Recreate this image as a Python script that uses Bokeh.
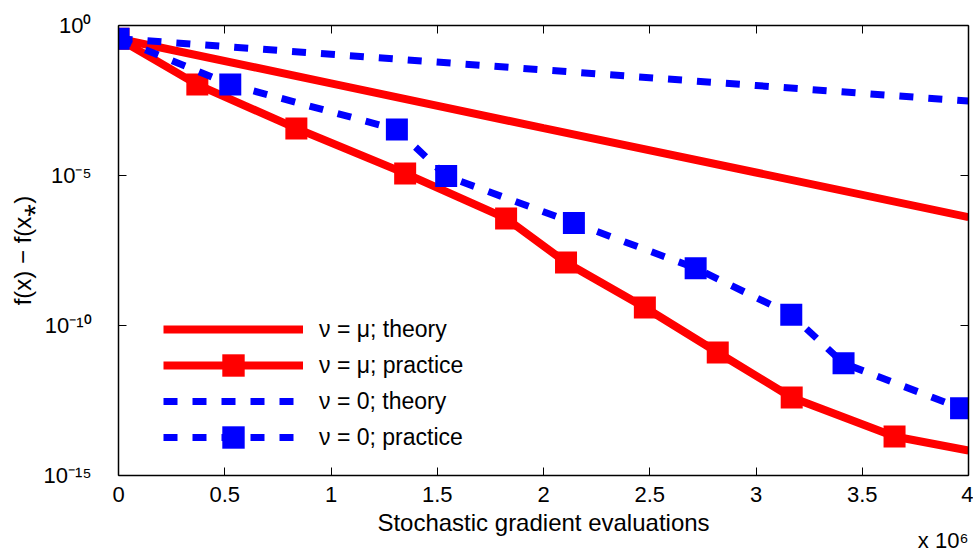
import numpy as np
from bokeh.plotting import figure
from bokeh.models import (FixedTicker, LinearAxis, LogAxis, CustomJSTickFormatter,
                          Title, Legend, LegendItem)
from bokeh.embed import file_html
from bokeh.resources import INLINE

# ---------------- data (x in units of 10^6, y given as log10 values) ----------------
x_label = "Stochastic gradient evaluations"
y_label = "f(x) \u2212 f(x\u204e)"
x_scale_note = "x 10\u2076"

xtick_values = [0, 0.5, 1, 1.5, 2, 2.5, 3, 3.5, 4]
xtick_labels = ["0", "0.5", "1", "1.5", "2", "2.5", "3", "3.5", "4"]
ytick_values = [1e-15, 1e-10, 1e-5, 1.0]
ytick_labels = ["10\u207b\u00b9\u2075", "10\u207b\u00b9\u2070", "10\u207b\u2075", "10\u2070"]

series_labels = ["\u03bd = \u03bc; theory", "\u03bd = \u03bc; practice",
                 "\u03bd = 0; theory", "\u03bd = 0; practice"]

theory_x = [0, 1, 2, 3, 4]
mu_theory_log10 = [-0.44, -1.93, -3.42, -4.90, -6.39]
zero_theory_log10 = [-0.44, -0.96, -1.48, -2.00, -2.52]

mu_practice_x = [0, 0.371, 0.837, 1.349, 1.824, 2.106, 2.477, 2.820, 3.168, 3.652, 4.0]
mu_practice_log10 = [-0.44, -1.97, -3.43, -4.93, -6.43, -7.90, -9.40, -10.90, -12.40, -13.70, -14.17]
mu_marker_x = [0, 0.371, 0.837, 1.349, 1.824, 2.106, 2.477, 2.820, 3.168, 3.652]
mu_marker_log10 = [-0.44, -1.97, -3.43, -4.93, -6.43, -7.90, -9.40, -10.90, -12.40, -13.70]

zero_practice_x = [0, 0.526, 1.310, 1.542, 2.143, 2.716, 3.166, 3.412, 3.965]
zero_practice_log10 = [-0.44, -1.97, -3.47, -5.02, -6.58, -8.09, -9.64, -11.26, -12.76]

RED = "#ff0000"
BLUE = "#0000ff"
FONT = "Liberation Sans"


def lin(v):
    return [10.0 ** a for a in v]


p = figure(width=973, height=553, output_backend="svg", toolbar_location=None,
           y_axis_type="log", x_range=(0, 4), y_range=(1e-15, 1.0),
           min_border_left=118, min_border_right=5, min_border_top=25,
           min_border_bottom=78)
p.background_fill_color = "white"
p.border_fill_color = "white"
p.outline_line_color = None
p.grid.visible = False

r1 = p.line(theory_x, lin(mu_theory_log10), line_color=RED, line_width=8)
r2 = p.line(mu_practice_x, lin(mu_practice_log10), line_color=RED, line_width=8)
r2m = p.scatter(mu_marker_x, lin(mu_marker_log10), marker="square", size=22,
                fill_color=RED, line_color=RED, line_width=0)
r3 = p.line(theory_x, lin(zero_theory_log10), line_color=BLUE, line_width=7,
            line_dash="14 15", line_cap="butt")
r4 = p.line(zero_practice_x, lin(zero_practice_log10), line_color=BLUE, line_width=7,
            line_dash="14 15", line_cap="butt")
r4m = p.scatter(zero_practice_x, lin(zero_practice_log10), marker="square", size=22,
                fill_color=BLUE, line_color=BLUE, line_width=0)

x_fmt = CustomJSTickFormatter(args=dict(vals=xtick_values, labs=xtick_labels), code="""
let best = 0, bd = Infinity;
for (let i = 0; i < vals.length; i++) { const d = Math.abs(tick - vals[i]); if (d < bd) { bd = d; best = i; } }
return labs[best];
""")
y_fmt = CustomJSTickFormatter(args=dict(vals=ytick_values, labs=ytick_labels), code="""
let best = 0, bd = Infinity;
for (let i = 0; i < vals.length; i++) { const d = Math.abs(Math.log10(tick) - Math.log10(vals[i])); if (d < bd) { bd = d; best = i; } }
return labs[best];
""")
blank = CustomJSTickFormatter(code="return '';")


def style(ax):
    ax.axis_line_color = "black"
    ax.axis_line_width = 1.5
    ax.major_tick_line_color = "black"
    ax.major_tick_line_width = 1
    ax.major_tick_in = 8
    ax.major_tick_out = 0
    ax.minor_tick_line_color = None
    ax.major_label_text_font = FONT
    ax.major_label_text_font_size = "22px"
    ax.major_label_text_color = "black"
    ax.axis_label_text_font = FONT
    ax.axis_label_text_font_size = "24px"
    ax.axis_label_text_font_style = "normal"
    ax.axis_label_text_color = "black"


xa = p.xaxis[0]
xa.ticker = FixedTicker(ticks=xtick_values, minor_ticks=[])
xa.formatter = x_fmt
xa.axis_label = x_label
style(xa)
xa.major_label_standoff = 11
xa.axis_label_standoff = 4

ya = p.yaxis[0]
ya.ticker = FixedTicker(ticks=ytick_values, minor_ticks=[])
ya.formatter = y_fmt
ya.axis_label = y_label
style(ya)
ya.major_label_standoff = 27
ya.axis_label_standoff = 5

top = LinearAxis(ticker=FixedTicker(ticks=xtick_values, minor_ticks=[]), formatter=blank)
style(top)
top.major_label_standoff = 0
top.major_label_text_font_size = "0px"
p.add_layout(top, "above")

right = LogAxis(ticker=FixedTicker(ticks=ytick_values, minor_ticks=[]), formatter=blank)
style(right)
right.major_label_standoff = 0
right.major_label_text_font_size = "0px"
p.add_layout(right, "right")


def base_legend(items, loc, gh):
    lg = Legend(items=items, location=loc)
    lg.glyph_width = 140
    lg.glyph_height = gh
    lg.spacing = 0
    lg.padding = 0
    lg.margin = 0
    lg.border_line_color = None
    lg.label_text_font = FONT
    lg.label_text_color = "black"
    return lg


# main legend: lines and labels, rows 36 px apart
legend = base_legend([
    LegendItem(label=series_labels[0], renderers=[r1]),
    LegendItem(label=series_labels[1], renderers=[r2]),
    LegendItem(label=series_labels[2], renderers=[r3]),
    LegendItem(label=series_labels[3], renderers=[r4]),
], (45, 20), 36)
legend.label_height = 28
legend.label_standoff = 16
legend.background_fill_color = "white"
legend.background_fill_alpha = 1.0
legend.label_text_font_size = "23px"
p.add_layout(legend)

# marker overlays for the "practice" rows (larger glyph box -> full-size squares)
for rend, loc in [(r2m, (45, 82)), (r4m, (45, 10))]:
    lg = base_legend([LegendItem(label=" ", renderers=[rend])], loc, 56)
    lg.label_height = 10
    lg.label_standoff = 0
    lg.label_text_font_size = "2px"
    lg.background_fill_alpha = 0.0
    p.add_layout(lg)

note = Title(text=x_scale_note, align="right", text_font=FONT, text_font_size="22px",
             text_font_style="normal", text_color="black", standoff=-25)
p.add_layout(note, "below")

open("out.html", "w").write(file_html(p, INLINE))
